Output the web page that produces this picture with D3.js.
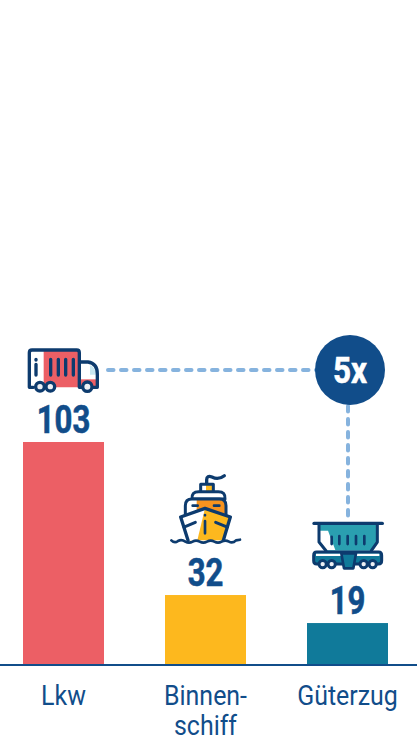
<!DOCTYPE html>
<html><head><meta charset="utf-8">
<script src="https://cdn.jsdelivr.net/npm/d3@7/dist/d3.min.js"></script>
<style>html,body{margin:0;background:#fff}svg{display:block}
text{font-family:"Roboto",sans-serif}</style></head>
<body><svg id="c" width="417" height="739"></svg>
<script>
const categories = ["Lkw", "Binnenschiff", "Güterzug"];
const labelLines = [["Lkw"], ["Binnen-", "schiff"], ["Güterzug"]];
const values = [103, 32, 19];
const barColors = ["#ec5f65", "#fdb81e", "#107a9a"];
const factorLabel = "5x";

const navy = "#114d8a", ink = "#0d3b6e", dash = "#86b3de";
const svg = d3.select("#c");
const x = d3.scaleBand().domain(categories).range([23, 388]).paddingInner(61 / 142).paddingOuter(0);
const y = d3.scaleLinear().domain([0, 103]).range([664, 442]);

svg.selectAll("rect.bar").data(categories).join("rect").attr("class", "bar")
  .attr("x", d => x(d)).attr("width", x.bandwidth())
  .attr("y", (d, i) => y(values[i])).attr("height", (d, i) => y(0) - y(values[i]))
  .attr("fill", (d, i) => barColors[i]);

svg.append("line").attr("x1", 0).attr("x2", 417).attr("y1", y(0) + 1).attr("y2", y(0) + 1)
  .attr("stroke", navy).attr("stroke-width", 2);

svg.selectAll("text.val").data(categories).join("text").attr("class", "val")
  .attr("transform", (d, i) => `translate(${x(d) + x.bandwidth() / 2},${y(values[i]) - 9}) scale(.82,1)`)
  .attr("text-anchor", "middle").attr("font-weight", 700).attr("font-size", 38)
  .attr("fill", navy).attr("stroke", navy).attr("stroke-width", .6).text((d, i) => values[i]);

const cat = svg.selectAll("text.cat").data(categories).join("text").attr("class", "cat")
  .attr("text-anchor", "middle").attr("font-size", 28).attr("fill", navy)
  .attr("transform", d => `translate(${x(d) + x.bandwidth() / 2},${y(0) + 41}) scale(.89,1)`);
cat.each(function (d, i) {
  d3.select(this).selectAll("tspan").data(labelLines[i]).join("tspan")
    .attr("x", 0).attr("dy", (l, k) => k ? 30 : 0).text(l => l);
});

// connector
const cy = y(103) - 72, cxx = x("Güterzug") + x.bandwidth() / 2;
const dashG = svg.append("g").attr("fill", "none").attr("stroke", dash).attr("stroke-width", 4)
  .attr("stroke-linecap", "round").attr("stroke-dasharray", "5.5 7.5");
dashG.append("line").attr("x1", x("Lkw") + x.bandwidth() + 4).attr("x2", 320).attr("y1", cy).attr("y2", cy);
dashG.append("line").attr("x1", cxx + .5).attr("x2", cxx + .5).attr("y1", cy + 36).attr("y2", y(19) - 102);
svg.append("circle").attr("cx", cxx + 2.5).attr("cy", cy).attr("r", 35).attr("fill", navy);
svg.append("text").attr("transform", `translate(${cxx + 2.5},${cy + 13}) scale(.85,1)`).attr("text-anchor", "middle")
  .attr("font-weight", 700).attr("font-size", 37).attr("fill", "#fff").attr("stroke", "#fff").attr("stroke-width", .6).text(factorLabel);

// icons are drawn in a 3x local grid, anchored on the bar top centre
function icon(i, dx, dy) {
  const c = categories[i];
  return svg.append("g")
    .attr("transform", `translate(${x(c) + x.bandwidth() / 2 + dx},${y(values[i]) + dy}) scale(${1 / 3})`)
    .attr("stroke-linejoin", "round").attr("stroke-linecap", "round");
}
const P = (g, d, fill, sw = 0) => g.append("path").attr("d", d).attr("fill", fill || "none")
  .attr("stroke", sw ? ink : "none").attr("stroke-width", sw);
const C = (g, cx, cy, r, fill, sw = 10) => g.append("circle").attr("cx", cx).attr("cy", cy).attr("r", r)
  .attr("fill", fill).attr("stroke", ink).attr("stroke-width", sw);

// truck
{
  const g = icon(0, -53.5, -112);
  P(g, "M62,60H206V172H62Z", "#fff");
  P(g, "M101,60H208V172H101Z", barColors[0]);
  P(g, "M210,96H232Q262,100 262,132V172H210Z", "#fff");
  P(g, "M240,106Q256,112 258,134H240Z", "#c8e8f2");
  P(g, "M212,148H262V172H212Z", barColors[0]);
  P(g, "M70,172H58V68Q58,60 66,60H200Q208,60 208,68V172H245", null, 10);
  P(g, "M210,96H234Q262,100 262,132V172H245", null, 10);
  P(g, "M78,88v2M78,103V135M122,88V135M145,88V135M167,88V135M190,88V135", null, 10);
  C(g, 90, 170, 13, "#eef0f4");
  C(g, 121, 170, 13, "#eef0f4");
  C(g, 232, 170, 14, "#eef0f4");
}
// ship
{
  const g = icon(1, -45.5, -130);
  P(g, "M140,58V44Q140,30 156,36Q175,46 193,32", null, 10);
  P(g, "M122,58H160V78H122Z", "#fff");
  P(g, "M138,60H160V78H138Z", "#fdb81e");
  P(g, "M122,78V58H160V78", null, 9);
  P(g, "M96,102Q94,80 116,80H175Q197,80 195,102Z", "#fff", 9);
  P(g, "M76,150V122Q76,102 96,102H178Q198,102 198,122V150Z", "#fff");
  P(g, "M110,104H178Q196,104 196,122V150H110Z", "#f7931e");
  P(g, "M76,150V122Q76,102 96,102H178Q198,102 198,122V150", null, 9);
  P(g, "M98,122H113M162,122H178", null, 8);
  P(g, "M62,156L135,130L211,156L190,226H84Z", barColors[1]);
  P(g, "M62,156L135,130L112,226H84Z", "#fff");
  P(g, "M84,226L62,156L135,130L211,156L190,226", null, 10);
  P(g, "M135,150v1M135,168V205", null, 8);
  P(g, "M72,186L106,172M167,172L202,186", null, 9);
  P(g, "M34,226Q44,236 54,228Q65,222 76,230Q87,236 98,230Q108,224 119,230Q130,236 141,230Q152,224 163,230Q174,236 185,230Q196,224 207,230Q218,236 228,226L240,224", null, 8);
}
// freight wagon
{
  const g = icon(2, -47.5, -123);
  P(g, "M57,72V126L78,152H214L232,126V72Z", "#2a9fb0");
  P(g, "M60,92H84L106,150H78L60,126Z", "#fff");
  P(g, "M57,72V126L78,152M214,152L232,126V72", null, 9);
  P(g, "M42,70H247", null, 10);
  P(g, "M95,110V132M118,108V132M143,108V132M168,108V132M193,108V132", null, 8);
  P(g, "M50,156H236Q245,156 245,166V182Q245,192 236,192H50Q41,192 41,182V166Q41,156 50,156Z", barColors[2], 9);
  P(g, "M48,161H238V168H48Z", "#fff");
  P(g, "M124,160H168L160,205H132Z", barColors[2], 8);
  [68, 95, 191, 218].forEach(cx => C(g, cx, 192, 11, "#eef0f4", 9));
}
</script></body></html>
